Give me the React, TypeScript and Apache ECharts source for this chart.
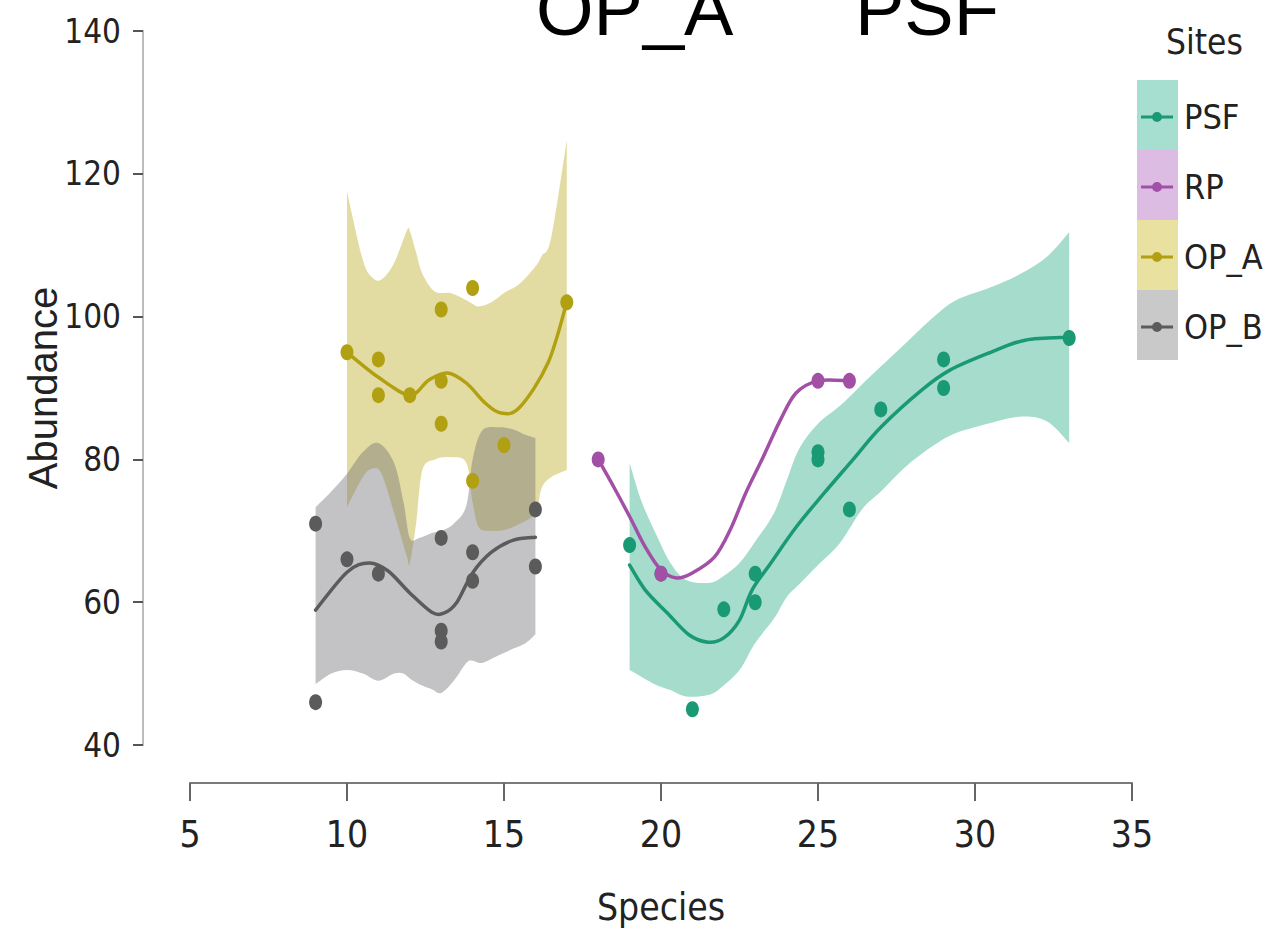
import React, { useEffect, useRef } from "react";
import * as echarts from "echarts";

// ---------------- data ----------------
const sites = ["PSF", "RP", "OP_A", "OP_B"];
const siteColors = ["#1A9A74", "#A24FA6", "#B2A013", "#5B5B5B"];
const legendBlockColors = ["#A6DECF", "#DDBCE3", "#E8E1A0", "#C9C9C9"];

// OP_A
const opaPoints = [[10, 95], [11, 94], [11, 89], [12, 89], [13, 101], [13, 91], [13, 85], [14, 104], [14, 77], [15, 82], [17, 102]];
const opaFitX = [10, 11, 12, 12.6, 13.2, 13.8, 14.4, 14.9, 15.5, 16.4, 17];
const opaFitY = [95, 91.5, 89, 91.1, 92.1, 90.7, 87.9, 86.5, 87.3, 93.5, 102];
const opaBandX = [10, 10.5, 10.8, 11.1, 11.5, 11.9, 12.0, 12.2, 12.4, 12.8, 13.3, 13.8, 14.0, 14.2, 14.6, 15.0, 15.5, 16.0, 16.2, 16.5, 17.0];
const opaBandLower = [73.3, 77.5, 78.7, 78, 72.5, 66.5, 65.5, 71, 78.5, 80, 80.3, 79.5, 74, 70.5, 70, 70.1, 71, 72.5, 76, 77.5, 78.5];
const opaBandUpper = [117.5, 108, 105.5, 105.2, 107.5, 112, 112, 109, 106, 103.5, 103.3, 102.3, 101.8, 101.4, 102, 103.3, 104.6, 107, 108.5, 111, 124.7];

// OP_B
const opbPoints = [[9, 71], [9, 46], [10, 66], [11, 64], [13, 69], [13, 56], [13, 54.5], [14, 67], [14, 63], [16, 73], [16, 65]];
const opbFitX = [9, 10, 10.7, 11.3, 12, 12.7, 13.1, 13.5, 14, 14.6, 15.3, 16];
const opbFitY = [58.9, 64.2, 65.5, 64.4, 61.3, 58.6, 58.5, 60.0, 64.1, 67.0, 68.7, 69.1];
const opbBandX = [9, 9.5, 10, 10.5, 11, 11.5, 11.8, 12.0, 12.3, 12.7, 13.0, 13.4, 13.8, 14.0, 14.3, 14.8, 15.3, 15.7, 16.0];
const opbBandUpper = [73.3, 75.5, 78, 81, 82.3, 79.5, 74, 69, 69, 69.7, 70, 71, 73.5, 80, 84, 84.5, 84.2, 83.4, 83];
const opbBandLower = [48.5, 50, 50.5, 50, 49, 50, 50, 49.3, 48.5, 47.8, 47.3, 49, 51.5, 51.8, 51.5, 52.5, 53.5, 54.3, 55.5];

// PSF
const psfPoints = [[19, 68], [20, 64], [21, 45], [22, 59], [23, 64], [23, 60], [25, 81], [25, 80], [26, 73], [27, 87], [29, 94], [29, 90], [33, 97]];
const psfFitX = [19, 19.5, 20.2, 20.9, 21.5, 22, 22.5, 22.9, 23.5, 24.3, 25.2, 26.1, 27, 28.3, 29.2, 30.5, 31.6, 33];
const psfFitY = [65.2, 61.7, 58.5, 55.4, 54.4, 55, 57.5, 61.7, 65.5, 70.5, 75.3, 79.9, 84.5, 89.7, 92.5, 95, 96.7, 97.1];
const psfBandX = [19, 19.4, 19.9, 20.3, 20.8, 21.5, 21.9, 22.5, 23.0, 23.6, 24.0, 24.4, 25.0, 25.7, 26.4, 27.0, 27.8, 28.7, 29.4, 30.5, 31.5, 32.3, 33];
const psfBandUpper = [79.5, 73.9, 69, 65.5, 63.1, 62.7, 63.4, 65.5, 68.5, 72.5, 77, 81.5, 85, 87.5, 90.5, 93, 96.3, 100, 102.3, 104.1, 106.1, 108.4, 111.8];
const psfBandLower = [50.5, 49.5, 48.3, 47.7, 46.8, 47, 48, 50.5, 54.3, 57.7, 60.7, 62.5, 65.2, 68.3, 73, 75.5, 79, 82, 83.7, 85.1, 86, 85.3, 82.3];

// RP
const rpPoints = [[18, 80], [20, 64], [25, 91], [26, 91]];
const rpFitX = [18, 18.5, 19, 19.5, 20, 20.5, 21, 21.7, 22.2, 22.7, 23.25, 23.8, 24.3, 25, 26];
const rpFitY = [80, 76.1, 72, 67.7, 64.5, 63.4, 64.1, 66.3, 70.1, 75.3, 80.3, 85.5, 89.3, 91, 91];

const NARROW = "'Liberation Sans Narrow', 'Arial Narrow', 'DejaVu Sans Condensed', 'Liberation Sans', sans-serif";
const REGULAR = "'Liberation Sans', Arial, sans-serif";
const LEGEND_ICON = "path://M0,5L32,5L32,8L0,8Z M16,1.5A5,5 0 1 1 16,11.5A5,5 0 1 1 16,1.5Z";

// ---------------- helpers ----------------
function smoothPath(pts: number[][], start: boolean): string {
  let d = (start ? "M" : "L") + pts[0][0] + "," + pts[0][1];
  for (let i = 0; i < pts.length - 1; i++) {
    const p0 = pts[i - 1] || pts[i];
    const p1 = pts[i];
    const p2 = pts[i + 1];
    const p3 = pts[i + 2] || p2;
    const t = 1 / 6;
    const lo = Math.min(p1[0], p2[0]);
    const hi = Math.max(p1[0], p2[0]);
    const clamp = (v: number) => Math.max(lo, Math.min(hi, v));
    const c1 = [clamp(p1[0] + (p2[0] - p0[0]) * t), p1[1] + (p2[1] - p0[1]) * t];
    const c2 = [clamp(p2[0] - (p3[0] - p1[0]) * t), p2[1] - (p3[1] - p1[1]) * t];
    d += " C" + c1[0] + "," + c1[1] + " " + c2[0] + "," + c2[1] + " " + p2[0] + "," + p2[1];
  }
  return d;
}

function bandSeries(name: string, X: number[], L: number[], U: number[], fill: string) {
  return {
    type: "custom",
    name,
    silent: true,
    z: 1,
    data: X.map((x, i) => [x, L[i], U[i]]),
    encode: { x: 0, y: [1, 2] },
    renderItem: (params: any, api: any) => {
      if (params.dataIndex !== 0) return null;
      const up = X.map((x, i) => api.coord([x, U[i]]));
      const lo = X.map((x, i) => api.coord([x, L[i]])).reverse();
      const d = smoothPath(up, true) + " " + smoothPath(lo, false) + " Z";
      return { type: "path", shape: { pathData: d }, style: { fill } };
    },
  };
}

function fitSeries(name: string, X: number[], Y: number[], color: string) {
  return {
    type: "custom",
    name,
    silent: true,
    z: 2,
    data: X.map((x, i) => [x, Y[i]]),
    encode: { x: 0, y: 1 },
    renderItem: (params: any, api: any) => {
      if (params.dataIndex !== 0) return null;
      const pts = X.map((x, i) => api.coord([x, Y[i]]));
      return {
        type: "path",
        shape: { pathData: smoothPath(pts, true) },
        style: { fill: "none", stroke: color, lineWidth: 3.5, lineJoin: "round", lineCap: "round" },
      };
    },
  };
}

function pointSeries(name: string, pts: number[][], color: string) {
  return {
    type: "scatter",
    name,
    z: 3,
    data: pts,
    symbol: "circle",
    symbolSize: [13, 16],
    itemStyle: { color, opacity: 1 },
  };
}

export default function App() {
  const ref = useRef<HTMLDivElement>(null);
  useEffect(() => {
    if (!ref.current) return;
    const chart = echarts.init(ref.current, null, { renderer: "svg" });
    const option: any = {
      animation: false,
      backgroundColor: "#ffffff",
      title: [
        { text: "OP_A", left: 536, top: -28, padding: 0, textStyle: { fontSize: 74, fontWeight: "normal", fontFamily: REGULAR, color: "#000" } },
        { text: "PSF", left: 855, top: -28, padding: 0, textStyle: { fontSize: 74, fontWeight: "normal", fontFamily: REGULAR, color: "#000" } },
        { text: "Sites", left: 1166, top: 24, padding: 0, textStyle: { fontSize: 35, fontWeight: "normal", fontFamily: NARROW, color: "#222" } },
      ],
      graphic: legendBlockColors.map((c, i) => ({
        type: "rect",
        z: 0,
        shape: { x: 1137, y: 80 + i * 70, width: 41, height: 70 },
        style: { fill: c },
      })),
      legend: {
        orient: "vertical",
        left: 1141,
        top: 100,
        padding: 0,
        itemGap: 36,
        itemWidth: 32,
        itemHeight: 10,
        selectedMode: false,
        textStyle: { fontSize: 34, fontFamily: NARROW, color: "#222", lineHeight: 34, padding: [0, 0, 0, 6] },
        data: sites.map((s, i) => ({ name: s, icon: LEGEND_ICON, itemStyle: { color: siteColors[i] } })),
      },
      grid: { left: 190, right: 156, top: 31, bottom: 188, containLabel: false },
      xAxis: {
        type: "value",
        min: 5,
        max: 35,
        interval: 5,
        offset: 38,
        name: "Species",
        nameLocation: "middle",
        nameGap: 106,
        nameMoveOverlap: false,
        nameTextStyle: { fontSize: 37, fontFamily: NARROW, color: "#222" },
        axisLine: { show: true, lineStyle: { color: "#7a7a7a", width: 2 } },
        axisTick: { show: true, length: 18, lineStyle: { color: "#666", width: 2 } },
        axisLabel: { fontSize: 37, fontFamily: NARROW, color: "#222", margin: 33 },
        splitLine: { show: false },
      },
      yAxis: {
        type: "value",
        min: 40,
        max: 140,
        interval: 20,
        offset: 47,
        name: "Abundance",
        nameLocation: "middle",
        nameGap: 80,
        nameMoveOverlap: false,
        nameTextStyle: { fontSize: 40, fontFamily: REGULAR, color: "#222" },
        axisLine: { show: true, lineStyle: { color: "#bdbdbd", width: 2 } },
        axisTick: { show: true, length: 10, lineStyle: { color: "#555", width: 2 } },
        axisLabel: { fontSize: 33, fontFamily: NARROW, color: "#222", margin: 22 },
        splitLine: { show: false },
      },
      series: [
        bandSeries("OP_A band", opaBandX, opaBandLower, opaBandUpper, "rgba(185,167,22,0.4)"),
        bandSeries("OP_B band", opbBandX, opbBandLower, opbBandUpper, "rgba(104,104,112,0.4)"),
        bandSeries("PSF band", psfBandX, psfBandLower, psfBandUpper, "rgba(30,168,128,0.4)"),
        fitSeries("OP_A fit", opaFitX, opaFitY, siteColors[2]),
        fitSeries("OP_B fit", opbFitX, opbFitY, siteColors[3]),
        fitSeries("PSF fit", psfFitX, psfFitY, siteColors[0]),
        fitSeries("RP fit", rpFitX, rpFitY, siteColors[1]),
        pointSeries("OP_A", opaPoints, siteColors[2]),
        pointSeries("OP_B", opbPoints, siteColors[3]),
        pointSeries("PSF", psfPoints, siteColors[0]),
        pointSeries("RP", rpPoints, siteColors[1]),
      ],
    };
    chart.setOption(option);
    return () => chart.dispose();
  }, []);
  return <div ref={ref} style={{ position: "fixed", left: 0, top: 0, width: 1288, height: 933 }} />;
}
